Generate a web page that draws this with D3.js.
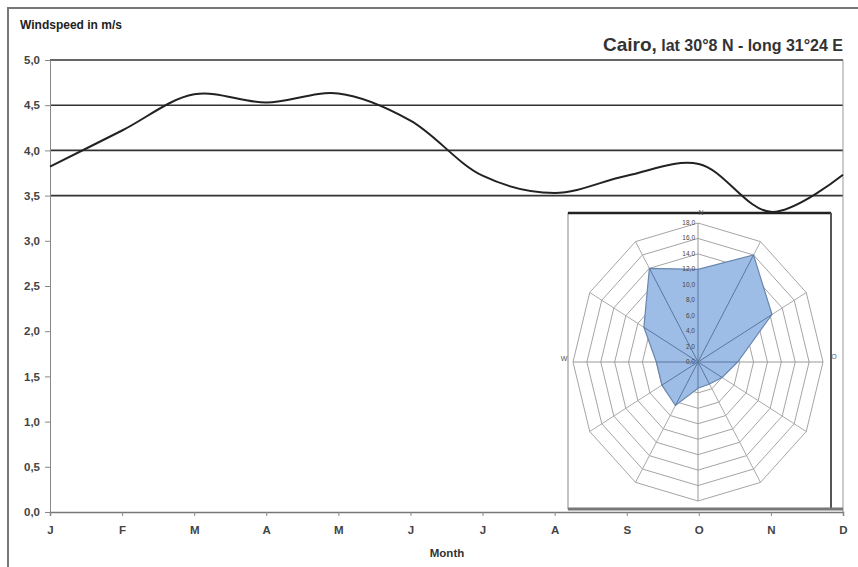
<!DOCTYPE html>
<html>
<head>
<meta charset="utf-8">
<script src="https://cdn.jsdelivr.net/npm/d3@7"></script>
<style>
  body { margin: 0; background: #fff; }
  text { font-family: "Liberation Sans", Arial, sans-serif; }
</style>
</head>
<body>
<svg id="chart"></svg>
<script>
const months = ["J", "F", "M", "A", "M", "J", "J", "A", "S", "O", "N", "D"];
const windspeed = [3.82, 4.22, 4.62, 4.53, 4.63, 4.33, 3.72, 3.53, 3.72, 3.85, 3.32, 3.73];
const yTicks = [0, 0.5, 1, 1.5, 2, 2.5, 3, 3.5, 4, 4.5, 5];
const gridValues = [3.5, 4, 4.5, 5];

// wind rose: 12 directions, 30 degrees apart, frequency in %
const directions = ["N", "", "", "O", "", "", "", "", "", "W", "", ""];
const frequency = [12, 16, 12.3, 5.7, 4, 3.3, 3.4, 6.5, 6, 6, 9, 14];
const rings = [0, 2, 4, 6, 8, 10, 12, 14, 16, 18];

const width = 858;
const height = 567;
const comma = (v) => d3.format(".1f")(v).replace(".", ",");

const svg = d3.select("#chart").attr("width", width).attr("height", height);

// outer frame
svg.append("path")
  .attr("d", "M8,567 L8,8 L858,8")
  .attr("fill", "none")
  .attr("stroke", "#777")
  .attr("stroke-width", 2);

const xScale = d3.scaleLinear().domain([0, 11]).range([50, 843]);
const yScale = d3.scaleLinear().domain([0, 5]).range([512, 60]);

// gridlines (only the upper ones are drawn in the original)
svg.append("g")
  .selectAll("line")
  .data(gridValues)
  .enter()
  .append("line")
  .attr("x1", 50)
  .attr("x2", 843)
  .attr("y1", (d) => yScale(d))
  .attr("y2", (d) => yScale(d))
  .attr("stroke", "#333")
  .attr("stroke-width", 1.6);

// right border
svg.append("line")
  .attr("x1", 843).attr("x2", 843)
  .attr("y1", yScale(5)).attr("y2", yScale(0))
  .attr("stroke", "#999");

// Y-axis
const yAxis = d3.axisLeft(yScale).tickValues(yTicks).tickSize(5).tickFormat(comma);
const gy = svg.append("g").attr("transform", "translate(50,0)").call(yAxis);
gy.select(".domain").attr("stroke", "#888");
gy.selectAll(".tick line").attr("stroke", "#888");
gy.selectAll(".tick text")
  .attr("x", -10)
  .attr("fill", "#444")
  .style("font-size", "11.5px")
  .style("font-weight", "bold")
  .style("font-family", "'Liberation Sans', Arial, sans-serif");

// X-axis
const xAxis = d3.axisBottom(xScale)
  .tickValues(d3.range(months.length))
  .tickSize(4)
  .tickFormat((i) => months[i]);
const gx = svg.append("g").attr("transform", "translate(0,512)").call(xAxis);
gx.select(".domain").attr("stroke", "#777").attr("stroke-width", 1.5);
gx.selectAll(".tick line").attr("stroke", "#888");
gx.selectAll(".tick text")
  .attr("y", 14)
  .attr("fill", "#444")
  .style("font-size", "11.5px")
  .style("font-weight", "bold")
  .style("font-family", "'Liberation Sans', Arial, sans-serif");

// wind speed curve
const line = d3.line()
  .x((d, i) => xScale(i))
  .y((d) => yScale(d))
  .curve(d3.curveCatmullRom.alpha(0.5));

svg.append("path")
  .datum(windspeed)
  .attr("d", line)
  .attr("fill", "none")
  .attr("stroke", "#222")
  .attr("stroke-width", 2);

// labels
svg.append("text")
  .attr("x", 20).attr("y", 29)
  .attr("fill", "#222")
  .style("font-size", "12px").style("font-weight", "bold")
  .text("Windspeed in m/s");

const title = svg.append("text")
  .attr("x", 843).attr("y", 51)
  .attr("text-anchor", "end")
  .attr("fill", "#333")
  .style("font-weight", "bold");
title.append("tspan").style("font-size", "19px").text("Cairo,");
title.append("tspan").style("font-size", "16px").text(" lat 30°8 N - long 31°24 E");

svg.append("text")
  .attr("x", 447).attr("y", 557)
  .attr("text-anchor", "middle")
  .attr("fill", "#333")
  .style("font-size", "11.5px").style("font-weight", "bold")
  .text("Month");

// inset wind rose
const inset = svg.append("g");
inset.append("rect")
  .attr("x", 568).attr("y", 213)
  .attr("width", 263).attr("height", 296)
  .attr("fill", "#fff")
  .attr("stroke", "#888")
  .attr("stroke-width", 1);
inset.append("line")
  .attr("x1", 568).attr("x2", 831).attr("y1", 213).attr("y2", 213)
  .attr("stroke", "#222").attr("stroke-width", 2.5);
inset.append("line")
  .attr("x1", 831).attr("x2", 831).attr("y1", 213).attr("y2", 510)
  .attr("stroke", "#555").attr("stroke-width", 2);
inset.append("line")
  .attr("x1", 568).attr("x2", 843).attr("y1", 509).attr("y2", 509)
  .attr("stroke", "#777").attr("stroke-width", 3);

const cx = 698;
const cy = 362;
const angle = d3.scaleLinear().domain([0, 12]).range([0, 2 * Math.PI]);
const rx = d3.scaleLinear().domain([0, 18]).range([0, 125]);
const ry = d3.scaleLinear().domain([0, 18]).range([0, 139]);
const px = (v, i) => cx + rx(v) * Math.sin(angle(i));
const py = (v, i) => cy - ry(v) * Math.cos(angle(i));

const rose = svg.append("g");

rose.selectAll(".ring")
  .data(rings.slice(1))
  .enter()
  .append("polygon")
  .attr("class", "ring")
  .attr("points", (v) => d3.range(12).map((i) => [px(v, i), py(v, i)].join(",")).join(" "))
  .attr("fill", "none")
  .attr("stroke", "#a5a5a5")
  .attr("stroke-width", 1);

rose.selectAll(".spoke")
  .data(d3.range(12))
  .enter()
  .append("line")
  .attr("class", "spoke")
  .attr("x1", cx).attr("y1", cy)
  .attr("x2", (i) => px(18, i))
  .attr("y2", (i) => py(18, i))
  .attr("stroke", (i) => (i % 3 === 0 ? "#999" : "#aaa"))
  .attr("stroke-width", 1);

rose.append("polygon")
  .attr("points", frequency.map((v, i) => [px(v, i), py(v, i)].join(",")).join(" "))
  .attr("fill", "#9dbde6")
  .attr("stroke", "#6a86ad")
  .attr("stroke-width", 1.2);

rose.selectAll(".inner")
  .data(frequency)
  .enter()
  .append("line")
  .attr("class", "inner")
  .attr("x1", cx).attr("y1", cy)
  .attr("x2", (v, i) => px(v, i))
  .attr("y2", (v, i) => py(v, i))
  .attr("stroke", "#5a77a0")
  .attr("stroke-width", 1);

rose.selectAll(".ringlabel")
  .data(rings)
  .enter()
  .append("text")
  .attr("class", "ringlabel")
  .attr("x", cx - 3)
  .attr("y", (v) => cy - ry(v) + 2)
  .attr("text-anchor", "end")
  .attr("fill", "#444")
  .style("font-size", "6.5px")
  .text(comma);

const dirOffsets = { N: [3, -10], O: [11, -5], W: [-9, -3] };
rose.selectAll(".dir")
  .data(directions.map((t, i) => ({ t, i })).filter((d) => d.t))
  .enter()
  .append("text")
  .attr("class", "dir")
  .attr("x", (d) => px(18, d.i) + dirOffsets[d.t][0])
  .attr("y", (d) => py(18, d.i) + dirOffsets[d.t][1] + 2)
  .attr("text-anchor", "middle")
  .attr("fill", "#555")
  .style("font-size", "7px")
  .text((d) => d.t);
</script>
</body>
</html>
